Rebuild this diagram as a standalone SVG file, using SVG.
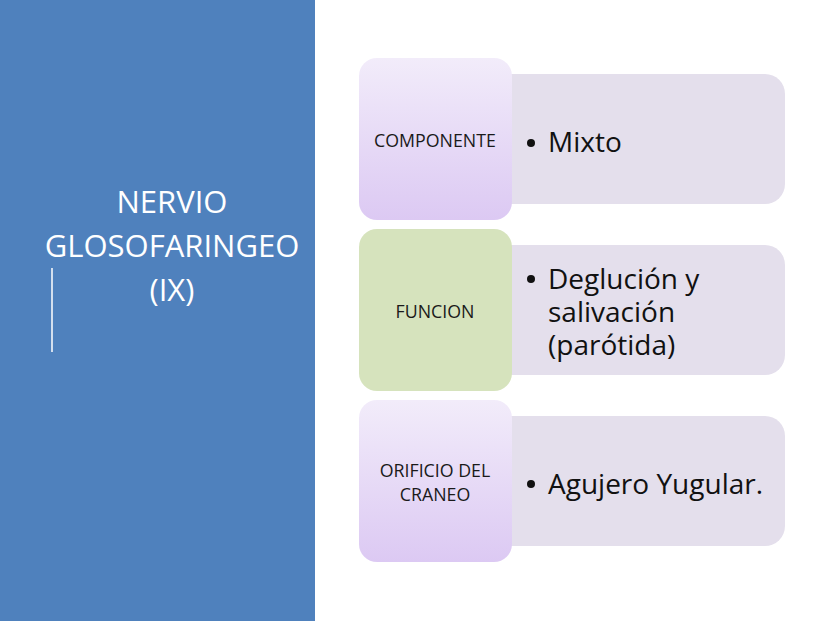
<svg xmlns="http://www.w3.org/2000/svg" width="828" height="621" viewBox="0 0 828 621">
<style>
.lbl{font-family:"Open Sans","Noto Sans",sans-serif;font-size:17.8px;fill:#1a1a1a;text-anchor:middle}
.det{font-family:"Open Sans","Noto Sans",sans-serif;font-size:28px;fill:#111}
.title{font-family:"Open Sans","Noto Sans",sans-serif;font-size:31px;fill:#ffffff;text-anchor:middle}
.detbox{fill:#e4dfec}
</style>
<defs>
<linearGradient id="purp" x1="0" y1="0" x2="0" y2="1">
<stop offset="0" stop-color="#f2ecfa"/>
<stop offset="1" stop-color="#dcc9f3"/>
</linearGradient>
</defs>
<rect x="0" y="0" width="828" height="621" fill="#ffffff"/>
<g id="panel">
<rect x="0" y="0" width="315" height="621" fill="#4f81bd"/>
<line x1="52" y1="268" x2="52" y2="352" stroke="#ffffff" stroke-width="1.5"/>
<text class="title" x="172" y="213">NERVIO<tspan x="172" y="257">GLOSOFARINGEO</tspan><tspan x="172" y="301">(IX)</tspan></text>
</g>
<g id="connectors"></g>
<g id="row1">
<rect class="detbox" x="490" y="74" width="295" height="130" rx="20"/>
<rect x="359" y="58" width="153" height="162" rx="18" fill="url(#purp)"/>
<text class="lbl" x="435" y="147">COMPONENTE</text>
<circle cx="531" cy="143" r="4" fill="#111"/>
<text class="det" x="548" y="152">Mixto</text>
</g>
<g id="row2">
<rect class="detbox" x="490" y="245" width="295" height="130" rx="20"/>
<rect x="359" y="229" width="153" height="162" rx="18" fill="#d6e3bd"/>
<text class="lbl" x="435" y="318">FUNCION</text>
<circle cx="531" cy="279" r="4" fill="#111"/>
<text class="det" x="548" y="289">Deglución y<tspan x="548" y="322">salivación</tspan><tspan x="548" y="355">(parótida)</tspan></text>
</g>
<g id="row3">
<rect class="detbox" x="490" y="416" width="295" height="130" rx="20"/>
<rect x="359" y="400" width="153" height="162" rx="18" fill="url(#purp)"/>
<text class="lbl" x="435" y="477">ORIFICIO DEL<tspan x="435" y="501">CRANEO</tspan></text>
<circle cx="531" cy="484" r="4" fill="#111"/>
<text class="det" x="548" y="494">Agujero Yugular.</text>
</g>
</svg>
